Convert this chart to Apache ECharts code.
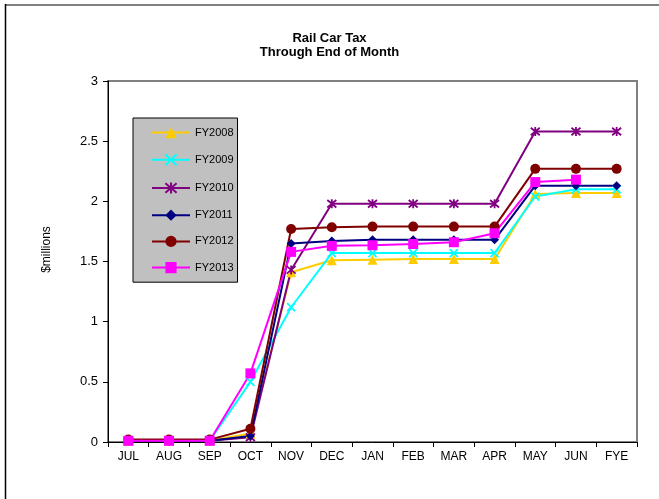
<!DOCTYPE html>
<html>
<head>
<meta charset="utf-8">
<script src="https://cdn.jsdelivr.net/npm/echarts@6/dist/echarts.min.js"></script>
<style>
html,body{margin:0;padding:0;background:#fff;}
#chart{width:659px;height:499px;}
</style>
</head>
<body>
<div id="chart"></div>
<script>
var categories = ['JUL','AUG','SEP','OCT','NOV','DEC','JAN','FEB','MAR','APR','MAY','JUN','FYE'];
var yTicks = [0, 0.5, 1, 1.5, 2, 2.5, 3];
var fy2008 = [0.01, 0.01, 0.01, 0.07, 1.41, 1.51, 1.515, 1.52, 1.52, 1.52, 2.06, 2.07, 2.07];
var fy2009 = [0.01, 0.01, 0.01, 0.50, 1.12, 1.57, 1.57, 1.57, 1.57, 1.57, 2.04, 2.10, 2.10];
var fy2010 = [0.01, 0.01, 0.01, 0.04, 1.43, 1.98, 1.98, 1.98, 1.98, 1.98, 2.58, 2.58, 2.58];
var fy2011 = [0.01, 0.01, 0.01, 0.05, 1.65, 1.67, 1.68, 1.68, 1.68, 1.68, 2.13, 2.13, 2.13];
var fy2012 = [0.02, 0.02, 0.02, 0.11, 1.77, 1.785, 1.79, 1.79, 1.79, 1.79, 2.27, 2.27, 2.27];
var fy2013 = [0.01, 0.01, 0.01, 0.57, 1.58, 1.63, 1.635, 1.645, 1.66, 1.735, 2.16, 2.18, null];

var X_PATH = 'path://M0,0L10,10M10,0L0,10';
var STAR_PATH = 'path://M0,0L10,10M10,0L0,10M5,-1L5,11';

function mk(name, data, color, symbol, size, stroke) {
  return {
    name: name, type: 'line', data: data,
    symbol: symbol, symbolSize: size,
    showSymbol: true,
    connectNulls: false,
    lineStyle: { color: color, width: 2 },
    itemStyle: stroke ? { color: 'rgba(0,0,0,0)', borderColor: color, borderWidth: 1.8 } : { color: color, borderWidth: 0 },
    emphasis: { disabled: true },
    animation: false
  };
}

var chart = echarts.init(document.getElementById('chart'), null, { renderer: 'canvas' });
chart.setOption({
  backgroundColor: '#ffffff',
  animation: false,
  textStyle: { fontFamily: 'Arial, "Liberation Sans", sans-serif' },
  title: {
    text: 'Rail Car Tax\nThrough End of Month',
    left: 'center', top: 26,
    textStyle: { fontSize: 13, fontWeight: 'bold', color: '#000', lineHeight: 14, fontFamily: 'Arial, "Liberation Sans", sans-serif' }
  },
  graphic: [
    { type: 'line', shape: { x1: 5, y1: 5, x2: 659, y2: 5 }, style: { stroke: '#808080', lineWidth: 2 }, z: 100 },
    { type: 'line', shape: { x1: 5.5, y1: 4, x2: 5.5, y2: 499 }, style: { stroke: '#000', lineWidth: 1.5 }, z: 100 }
  ],
  legend: {
    orient: 'vertical',
    left: 133, top: 118,
    backgroundColor: '#c0c0c0',
    borderColor: '#000', borderWidth: 1,
    padding: [9, 4, 9, 18],
    itemGap: 15,
    itemWidth: 38, itemHeight: 14,
    textStyle: { fontSize: 11, color: '#000', fontFamily: 'Arial, "Liberation Sans", sans-serif' },
    data: ['FY2008','FY2009','FY2010','FY2011','FY2012','FY2013']
  },
  grid: {
    left: 108, right: 22, top: 81, bottom: 57,
    show: true, borderColor: '#808080', borderWidth: 2, backgroundColor: 'transparent'
  },
  xAxis: {
    type: 'category', data: categories, boundaryGap: true,
    axisLine: { lineStyle: { color: '#000', width: 1 } },
    axisTick: { show: true, length: 5, lineStyle: { color: '#000' } },
    axisLabel: { color: '#000', fontSize: 12, margin: 9 },
    splitLine: { show: false }
  },
  yAxis: {
    type: 'value', min: yTicks[0], max: yTicks[yTicks.length - 1], interval: 0.5,
    name: '$millions', nameLocation: 'middle', nameGap: 55, nameRotate: 90,
    nameTextStyle: { fontSize: 12, color: '#000', padding: [0, 0, 0, 24] },
    axisLine: { show: true, lineStyle: { color: '#000', width: 1 } },
    axisTick: { show: true, length: 5, lineStyle: { color: '#000' } },
    axisLabel: { color: '#000', fontSize: 13, margin: 10 },
    splitLine: { show: false }
  },
  series: [
    mk('FY2008', fy2008, '#FFCC00', 'triangle', 10, false),
    mk('FY2009', fy2009, '#00FFFF', X_PATH, 8, true),
    mk('FY2010', fy2010, '#800080', STAR_PATH, 9, true),
    mk('FY2011', fy2011, '#000080', 'diamond', 9, false),
    mk('FY2012', fy2012, '#800000', 'circle', 10, false),
    mk('FY2013', fy2013, '#FF00FF', 'rect', 10, false)
  ]
});
</script>
</body>
</html>
